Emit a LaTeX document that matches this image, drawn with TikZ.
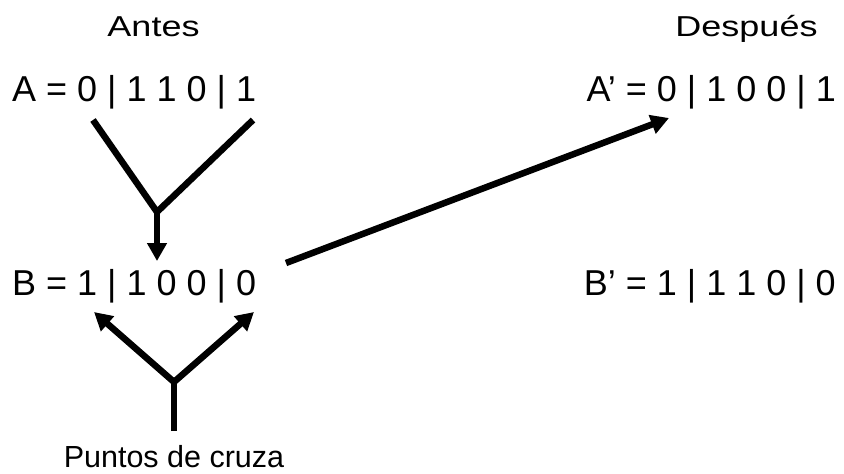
\documentclass[tikz,border=0pt]{standalone}
\usepackage{fontspec}
\setmainfont{Liberation Sans}
\usetikzlibrary{arrows.meta}
\tikzset{
  big/.style={font=\fontsize{36}{43}\selectfont, inner sep=0pt},
  small/.style={font=\fontsize{30.5}{36}\selectfont, inner sep=0pt},
  conn/.style={line width=6.5pt},
  arr/.style={conn, -{Triangle[length=18pt,width=19pt]}}
}
\newcommand{\squash}[1]{\scalebox{1}[0.8]{#1}}
\begin{document}
\begin{tikzpicture}[x=1pt,y=-1pt]
\useasboundingbox (0,0) rectangle (844,474);
\node[big, anchor=base] (antes) at (153.5,36) {\squash{Antes}};
\node[big, anchor=base] (despues) at (746.5,36) {\squash{Después}};
\node[big, anchor=base west] (A) at (12,101) {A = 0 | 1 1 0 | 1};
\node[big, anchor=base east] (Ap) at (836,101) {A’ = 0 | 1 0 0 | 1};
\node[big, anchor=base west] (B) at (12,295) {B = 1 | 1 0 0 | 0};
\node[big, anchor=base east] (Bp) at (836,295) {B’ = 1 | 1 1 0 | 0};
\node[small, anchor=base] (puntos) at (174,467) {Puntos de cruza};
% top Y
\coordinate (ya1) at (93,120);
\coordinate (ya2) at (253,120);
\coordinate (yj) at (157,212);
\coordinate (ye) at (157,261);
\draw[conn] (ya1) -- (yj) -- (ya2);
\draw[arr] (yj) -- (ye);
% bottom Y
\coordinate (yb) at (174,431);
\coordinate (bj) at (174,382);
\coordinate (bl) at (94,312);
\coordinate (br) at (254,312);
\draw[conn] (yb) -- (bj);
\draw[arr] (bj) -- (bl);
\draw[arr] (bj) -- (br);
% long arrow
\coordinate (ls) at (286,263);
\coordinate (le) at (669,118);
\draw[arr] (ls) -- (le);
\end{tikzpicture}
\end{document}
